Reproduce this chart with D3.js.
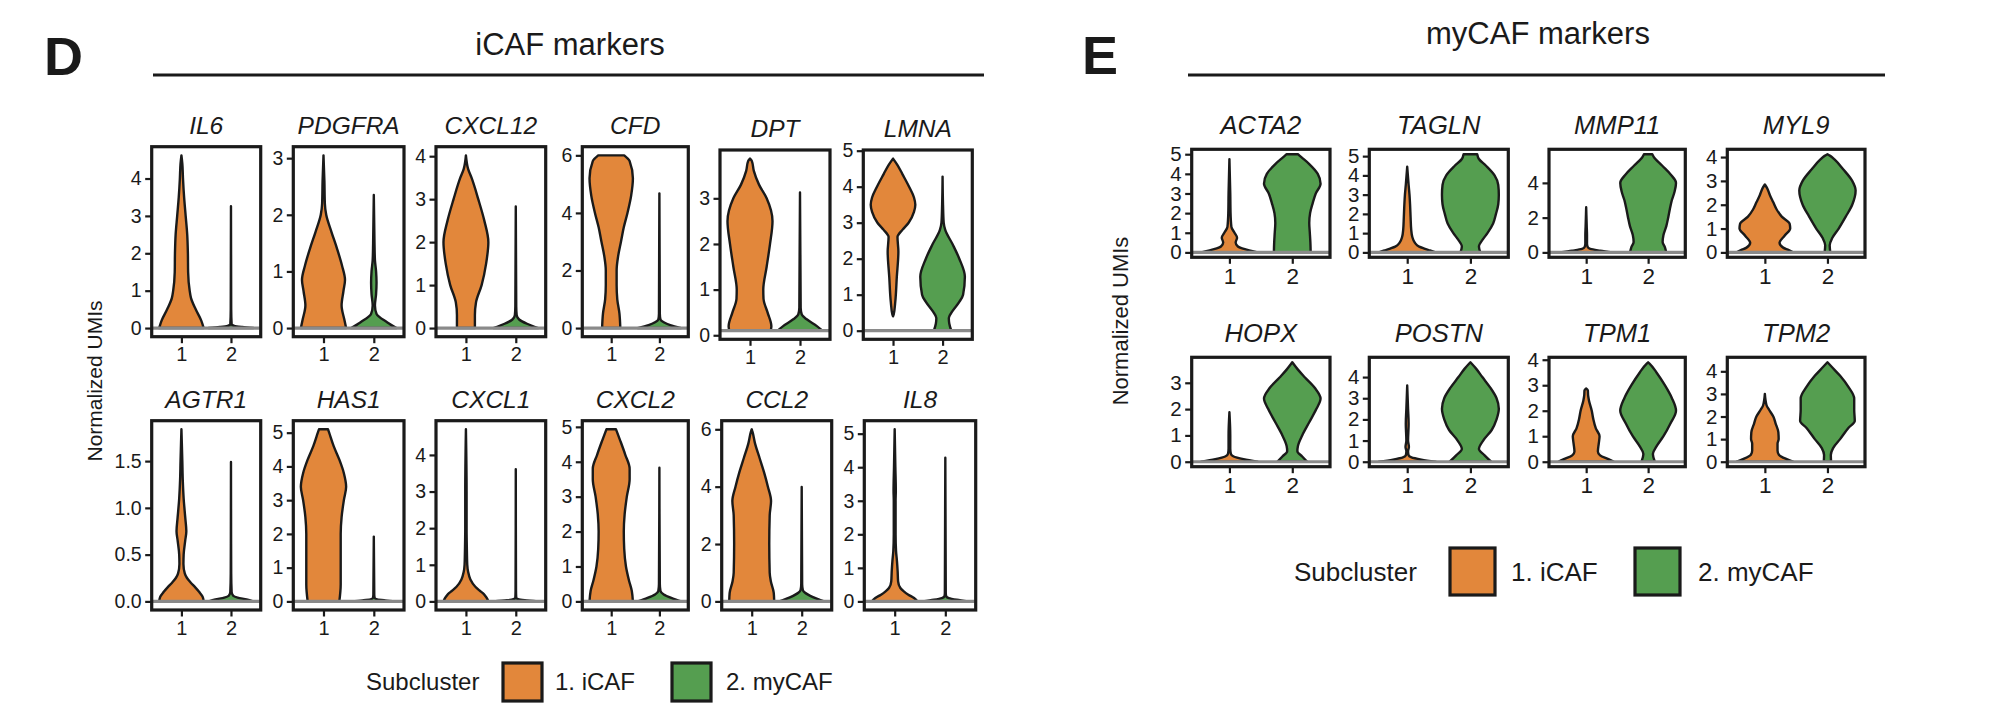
<!DOCTYPE html>
<html>
<head>
<meta charset="utf-8">
<script src="https://cdn.jsdelivr.net/npm/d3@7"></script>
<style>
  body { margin: 0; background: #fff; }
  text { font-family: "Liberation Sans", Arial, Helvetica, sans-serif; fill: #1a1a1a; }
</style>
</head>
<body>
<div id="chart"></div>
<script>
// ---- data ----
const groups = ["1", "2"];
const legendLabels = ["1. iCAF", "2. myCAF"];
const groupColors = ["#E2873B", "#559E50"];

const genesD = ["IL6", "PDGFRA", "CXCL12", "CFD", "DPT", "LMNA",
                "AGTR1", "HAS1", "CXCL1", "CXCL2", "CCL2", "IL8"];
const genesE = ["ACTA2", "TAGLN", "MMP11", "MYL9", "HOPX", "POSTN", "TPM1", "TPM2"];

const ticksD = [[0,1,2,3,4], [0,1,2,3], [0,1,2,3,4], [0,2,4,6], [0,1,2,3], [0,1,2,3,4,5],
                [0,0.5,1,1.5], [0,1,2,3,4,5], [0,1,2,3,4], [0,1,2,3,4,5], [0,2,4,6], [0,1,2,3,4,5]];
const ticksE = [[0,1,2,3,4,5], [0,1,2,3,4,5], [0,2,4], [0,1,2,3,4],
                [0,1,2,3], [0,1,2,3,4], [0,1,2,3,4], [0,1,2,3,4]];

// violin outlines: [normalized UMIs, relative half width] for group 1 and group 2
const vIL6 = [
  [[0,1],[0.2,.89],[0.5,.64],[0.8,.43],[1,.37],[1.5,.3],[2,.29],[2.5,.26],[3,.19],[3.5,.12],[4,.07],[4.4,.04],[4.62,0]],
  [[0,1],[0.03,.5],[0.06,.15],[0.1,.03],[0.5,.01],[3.26,0]]];
const vPDGFRA = [
  [[0,1],[0.15,.92],[0.4,.8],[0.65,.88],[0.85,.95],[1.1,.82],[1.4,.6],[1.7,.35],[2,.12],[2.2,.06],[2.6,.04],[3.05,0]],
  [[0,1],[0.1,.6],[0.25,.12],[0.4,.05],[0.6,.1],[0.8,.12],[1,.1],[1.2,.05],[1.5,.03],[2.35,0]]];
const vCXCL12 = [
  [[0,.4],[0.3,.4],[0.6,.45],[1,.7],[1.5,.9],[2,1],[2.5,.82],[3,.55],[3.5,.25],[3.7,.1],[4.02,0]],
  [[0,1],[0.1,.5],[0.2,.15],[0.3,.04],[0.5,.02],[2.83,0]]];
const vCFD = [
  [[0,.42],[0.5,.38],[1,.28],[1.5,.25],[2,.25],[2.5,.32],[3,.45],[3.5,.58],[4,.75],[4.6,.92],[5.2,1],[5.8,.85],[6,.6]],
  [[0,1],[0.1,.5],[0.2,.2],[0.3,.05],[0.5,.02],[4.68,0]]];
const vDPT = [
  [[0.1,.92],[0.2,.95],[0.5,.78],[0.8,.6],[1,.59],[1.5,.74],[2,.89],[2.5,1],[3,.74],[3.3,.4],[3.6,.17],[3.82,.08],[3.87,0]],
  [[0.1,1],[0.2,.75],[0.35,.3],[0.45,.08],[0.6,.03],[3.13,0]]];
const vLMNA = [
  [[0.4,0],[0.45,.03],[0.8,.1],[1.5,.17],[2.2,.24],[2.6,.2],[2.8,.42],[3,.7],[3.3,.94],[3.5,1],[3.7,.94],[4,.72],[4.35,.42],[4.6,.2],[4.78,0]],
  [[0,.39],[0.2,.3],[0.35,.28],[0.55,.45],[0.8,.75],[1,.92],[1.5,1],[2,.75],[2.4,.45],[2.8,.12],[3,.05],[3.5,.02],[4.28,0]]];
const vAGTR1 = [
  [[0,1],[0.05,.95],[0.1,.8],[0.15,.62],[0.2,.42],[0.25,.25],[0.3,.15],[0.4,.09],[0.5,.1],[0.65,.17],[0.75,.22],[0.9,.17],[1.1,.1],[1.3,.06],[1.5,.04],[1.84,0]],
  [[0,1],[0.02,.7],[0.04,.3],[0.06,.1],[0.1,.03],[0.3,.01],[1.49,0]]];
const vHAS1 = [
  [[0,.7],[0.5,.76],[1,.76],[2,.76],[2.5,.8],[3,.9],[3.4,1],[3.8,.9],[4.2,.7],[4.6,.45],[5,.25],[5.1,.2]],
  [[0,1],[0.03,.5],[0.06,.15],[0.1,.04],[0.2,.02],[1.92,0]]];
const vCXCL1 = [
  [[0,1],[0.1,.92],[0.2,.8],[0.3,.6],[0.4,.42],[0.6,.2],[0.8,.1],[1,.06],[1.5,.04],[2,.03],[3,.03],[4.7,0]],
  [[0,1],[0.03,.4],[0.06,.1],[0.1,.02],[0.3,.01],[3.61,0]]];
const vCXCL2 = [
  [[0,1],[0.3,.95],[0.6,.82],[1,.68],[1.5,.6],[2,.58],[2.5,.62],[3,.72],[3.5,.85],[3.8,.85],[4.2,.65],[4.6,.42],[4.93,.22]],
  [[0,1],[0.1,.55],[0.2,.2],[0.3,.05],[0.5,.02],[3.83,0]]];
const vCCL2 = [
  [[0,1],[0.3,.98],[0.7,.85],[1,.8],[2,.78],[3,.8],[3.5,.86],[4,.72],[4.5,.55],[5,.35],[5.5,.15],[5.9,.04],[6,0]],
  [[0,1],[0.15,.5],[0.3,.15],[0.4,.05],[0.6,.02],[3.99,0]]];
const vIL8 = [
  [[0,1],[0.1,.85],[0.2,.6],[0.3,.4],[0.4,.25],[0.6,.15],[0.9,.13],[1.2,.1],[1.5,.06],[2,.04],[3,.04],[3.3,.05],[4,.03],[5.13,0]],
  [[0,1],[0.05,.5],[0.1,.15],[0.15,.04],[0.25,.02],[4.28,0]]];

const vACTA2 = [
  [[0,1],[0.1,.7],[0.2,.45],[0.3,.3],[0.5,.22],[0.75,.27],[1,.18],[1.3,.07],[2,.04],[3,.03],[4.75,0]],
  [[0,.65],[0.5,.64],[1,.62],[1.5,.6],[2,.63],[2.5,.72],[3,.83],[3.5,1],[4,.9],[4.5,.6],[4.85,.32],[5,.2]]];
const vTAGLN = [
  [[0,1],[0.1,.8],[0.2,.6],[0.3,.42],[0.5,.27],[0.8,.18],[1.2,.14],[1.8,.12],[2.5,.1],[3,.08],[3.5,.05],[4.45,0]],
  [[0,.35],[0.3,.3],[0.7,.45],[1,.6],[1.5,.8],[2,.9],[2.5,.98],[3,1],[3.5,.98],[4,.85],[4.5,.55],[4.85,.3],[5.1,.24]]];
const vMMP11 = [
  [[0,.95],[0.1,.5],[0.2,.15],[0.3,.06],[0.5,.03],[1,.03],[1.5,.02],[2.6,0]],
  [[0,.65],[0.3,.6],[0.6,.52],[1,.55],[1.5,.65],[2,.72],[2.5,.78],[3,.85],[3.5,.95],[4,1],[4.5,.8],[5,.5],[5.5,.2],[5.65,.15]]];
const vMYL9 = [
  [[0,1],[0.1,.85],[0.2,.65],[0.4,.52],[0.7,.7],[1,.9],[1.2,.88],[1.5,.6],[1.8,.42],[2.1,.3],[2.4,.18],[2.7,.08],[2.85,0]],
  [[0,.1],[0.3,.08],[0.6,.17],[1,.4],[1.5,.65],[2,.88],[2.6,1],[3,.88],[3.5,.55],[3.9,.25],[4.05,.1],[4.12,0]]];
const vHOPX = [
  [[0,1],[0.1,.5],[0.2,.15],[0.3,.05],[0.5,.03],[1,.03],[1.88,0]],
  [[0,.53],[0.2,.35],[0.4,.18],[0.6,.2],[1,.35],[1.5,.6],[2,.85],[2.4,1],[2.8,.8],[3.2,.45],[3.5,.2],[3.78,0]]];
const vPOSTN = [
  [[0,1],[0.1,.5],[0.2,.15],[0.3,.05],[0.5,.03],[0.7,.06],[1,.03],[1.8,.05],[2.5,.03],[3.6,0]],
  [[0,.73],[0.3,.5],[0.6,.3],[1,.45],[1.5,.75],[2,.92],[2.5,1],[3,.92],[3.5,.7],[4,.42],[4.4,.2],[4.7,0]]];
const vTPM1 = [
  [[0,1],[0.1,.8],[0.25,.5],[0.4,.42],[0.7,.45],[1,.48],[1.3,.35],[1.7,.25],[2,.2],[2.4,.1],[2.6,.07],[2.8,.06],[2.87,0]],
  [[0,.24],[0.3,.17],[0.6,.3],[1,.55],[1.5,.8],[2,1],[2.5,.85],[3,.6],[3.5,.3],[3.85,.05],[3.9,0]]];
const vTPM2 = [
  [[0,1],[0.1,.8],[0.3,.5],[0.5,.45],[0.8,.45],[1,.49],[1.3,.48],[1.7,.38],[2,.3],[2.3,.15],[2.5,.06],[3,0]],
  [[0,.13],[0.3,.12],[0.6,.2],[1,.45],[1.5,.75],[1.8,.97],[2.3,.95],[2.8,.95],[3.3,.75],[3.8,.45],[4.2,.15],[4.4,0]]];

const violinsD = [vIL6, vPDGFRA, vCXCL12, vCFD, vDPT, vLMNA, vAGTR1, vHAS1, vCXCL1, vCXCL2, vCCL2, vIL8];
const violinsE = [vACTA2, vTAGLN, vMMP11, vMYL9, vHOPX, vPOSTN, vTPM1, vTPM2];

// ---- layout (panel boxes: left, right, top, bottom) ----
const boxD = [
  [151.7, 260.7, 146.7, 336.7], [293.3, 404, 146.7, 336.7], [436, 545.7, 146.7, 336.7],
  [582.3, 688.3, 146.7, 336.7], [720, 830, 150, 339.3], [863.3, 972.3, 150, 339.3],
  [151.7, 260.7, 420.7, 610], [293.3, 404, 420.7, 610], [436, 545.7, 420.7, 610],
  [582.3, 688.3, 420.7, 610], [721.7, 831.7, 420.7, 610], [864.3, 975.7, 420.7, 610]];
const boxE = [
  [1191.7, 1330, 149.3, 257.3], [1369.3, 1508.3, 149.3, 257.3], [1549, 1685.3, 149.3, 257.3], [1727.3, 1865, 149.3, 257.3],
  [1191.7, 1330, 357.3, 466.7], [1369.3, 1508.3, 357.3, 466.7], [1549, 1685.3, 357.3, 466.7], [1727.3, 1865, 357.3, 466.7]];

const styleD = { title: 24.5, titleGap: 13, ytick: 19.5, xtick: 20 };
const styleE = { title: 25.6, titleGap: 15, ytick: 20.5, xtick: 22.5 };

const width = 1992, height = 718;
const ink = "#1a1a1a";

const svg = d3.select("#chart").append("svg")
    .attr("width", width)
    .attr("height", height);

function drawPanel(gene, violins, ticks, box, st) {
    const [l, r, t, b] = box;
    const g = svg.append("g");

    const allVals = violins.flat().map(d => d[0]);
    const vmin = d3.min(allVals), vmax = d3.max(allVals);
    const pad = (vmax - vmin) * 0.05;

    const y = d3.scaleLinear().domain([vmin - pad, vmax + pad]).range([b, t]);
    const x = d3.scalePoint().domain(groups).range([l, r]).padding(0.6);
    const half = x.step() * 0.45;

    violins.forEach((prof, i) => {
        const cx = x(groups[i]);
        const area = d3.area()
            .y(d => y(d[0]))
            .x0(d => cx - d[1] * half)
            .x1(d => cx + d[1] * half)
            .curve(d3.curveMonotoneY);
        g.append("path")
            .attr("d", area(prof))
            .attr("fill", groupColors[i])
            .attr("stroke", ink)
            .attr("stroke-width", 2.4)
            .attr("stroke-linejoin", "round");
    });

    // zero-valued cells collapse to a grey band
    g.append("line")
        .attr("x1", l + 1).attr("x2", r - 1)
        .attr("y1", y(vmin)).attr("y2", y(vmin))
        .attr("stroke", "#8a8a8a")
        .attr("stroke-width", 3.2);

    const yAxis = d3.axisLeft(y).tickValues(ticks).tickSize(6.5).tickPadding(3.5)
        .tickFormat(ticks.some(v => v % 1) ? d3.format(".1f") : d3.format("d"));
    const ya = g.append("g").attr("transform", `translate(${l},0)`).call(yAxis);
    ya.select(".domain").remove();
    ya.selectAll("line").attr("stroke", ink).attr("stroke-width", 2.2);
    ya.selectAll("text").style("font-size", st.ytick + "px").attr("fill", ink);

    const xAxis = d3.axisBottom(x).tickSize(6.5).tickPadding(4);
    const xa = g.append("g").attr("transform", `translate(0,${b})`).call(xAxis);
    xa.select(".domain").remove();
    xa.selectAll("line").attr("stroke", ink).attr("stroke-width", 2.2);
    xa.selectAll("text").style("font-size", st.xtick + "px").attr("fill", ink);

    g.append("rect")
        .attr("x", l).attr("y", t)
        .attr("width", r - l).attr("height", b - t)
        .attr("fill", "none")
        .attr("stroke", ink)
        .attr("stroke-width", 3.2);

    g.append("text")
        .attr("x", (l + r) / 2)
        .attr("y", t - st.titleGap)
        .attr("text-anchor", "middle")
        .style("font-size", st.title + "px")
        .style("font-style", "italic")
        .text(gene);
}

genesD.forEach((gene, i) => drawPanel(gene, violinsD[i], ticksD[i], boxD[i], styleD));
genesE.forEach((gene, i) => drawPanel(gene, violinsE[i], ticksE[i], boxE[i], styleE));

// panel letters and section headers
function header(letter, lx, ly, title, tx, ty, tsize, x1, x2) {
    svg.append("text").attr("x", lx).attr("y", ly)
        .style("font-size", "54px").style("font-weight", "bold").text(letter);
    svg.append("text").attr("x", tx).attr("y", ty)
        .attr("text-anchor", "middle").style("font-size", tsize + "px").text(title);
    svg.append("line").attr("x1", x1).attr("x2", x2).attr("y1", 75).attr("y2", 75)
        .attr("stroke", ink).attr("stroke-width", 2.8);
}
header("D", 44, 75, "iCAF markers", 570, 55, 31, 153, 984);
header("E", 1082, 74, "myCAF markers", 1538, 44, 31, 1188, 1885);

function yTitle(cx, cy, size) {
    svg.append("text")
        .attr("transform", `translate(${cx},${cy}) rotate(-90)`)
        .attr("text-anchor", "middle")
        .style("font-size", size + "px")
        .text("Normalized UMIs");
}
yTitle(102, 381, 21);
yTitle(1128, 321, 22);

function legend(x0, base, size, keyX, keyY, keyW, keyH, labelX) {
    svg.append("text").attr("x", x0).attr("y", base)
        .style("font-size", size + "px").text("Subcluster");
    legendLabels.forEach((lab, i) => {
        svg.append("rect")
            .attr("x", keyX[i]).attr("y", keyY)
            .attr("width", keyW).attr("height", keyH)
            .attr("fill", groupColors[i])
            .attr("stroke", ink).attr("stroke-width", 3.2);
        svg.append("text").attr("x", labelX[i]).attr("y", base)
            .style("font-size", size + "px").text(lab);
    });
}
legend(366, 690, 24, [503, 672], 663, 39, 38, [555, 726]);
legend(1294, 581, 26, [1450, 1635], 548, 45, 47, [1511, 1698]);
</script>
</body>
</html>
